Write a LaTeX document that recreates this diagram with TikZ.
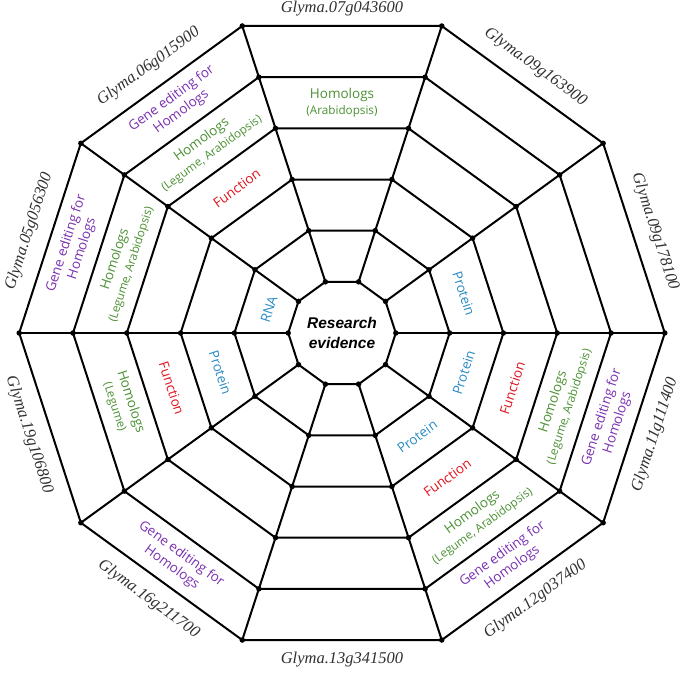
\documentclass[tikz,border=0pt]{standalone}
\usepackage{fontspec}
\setmainfont{Liberation Serif}
\newfontfamily\labfont{Open Sans}
\newfontfamily\centfont{Liberation Sans}
\definecolor{cPur}{HTML}{7A30B0}
\definecolor{cGrn}{HTML}{4A9032}
\definecolor{cRed}{HTML}{E0141E}
\definecolor{cBlu}{HTML}{2A8CC4}
\definecolor{cGene}{HTML}{303030}
\begin{document}
\begin{tikzpicture}[x=1pt,y=1pt,
  web/.style={line width=2pt, line join=round},
  dot/.style={circle, fill=black, inner sep=0pt, minimum size=5.5pt},
  gene/.style={font=\fontsize{16.5}{18}\selectfont\itshape, text=cGene, inner sep=0pt},
  lab/.style={font=\labfont\fontsize{13.5}{16.5}\selectfont, align=center, inner sep=0pt},
]
\newcommand\subl[1]{{\fontsize{11.7}{14}\selectfont #1}}
\useasboundingbox (0,0) rectangle (685,-672);
\coordinate (C) at (342,-333);
\def\U{53.8}
\foreach \k in {1,...,6}{
  \foreach \i in {0,...,9}{
    \path (C) ++(\i*36:\k*\U) coordinate (v\k-\i);
  }
}
% rings
\foreach \k in {1,...,6}{
  \draw[web] (v\k-0) \foreach \i in {1,...,9}{ -- (v\k-\i)} -- cycle;
}
% spokes
\foreach \i in {0,...,9}{
  \draw[web] (v1-\i) -- (v6-\i);
}
% dots
\foreach \k in {1,...,6}{
  \foreach \i in {0,...,9}{
    \node[dot] (d\k-\i) at (v\k-\i) {};
  }
}
% centre
\node[font=\centfont\bfseries\itshape\fontsize{15.5}{20}\selectfont, align=center] (centre) at (C) {Research\\evidence};

% gene labels
\def\G{324.5}\def\H{329}
\path (C) ++(90:\G)   node[gene, rotate=0]   (g90)  {Glyma.07g043600};
\path (C) ++(54:\H)   node[gene, rotate=-36] (g54)  {Glyma.09g163900};
\path (C) ++(18:\H)   node[gene, rotate=-72] (g18)  {Glyma.09g178100};
\path (C) ++(-18:\H)  node[gene, rotate=72]  (gm18) {Glyma.11g111400};
\path (C) ++(-54:\H)  node[gene, rotate=36]  (gm54) {Glyma.12g037400};
\path (C) ++(-90:\G+2)  node[gene, rotate=0]   (gm90) {Glyma.13g341500};
\path (C) ++(-126:\H) node[gene, rotate=-36] (gm126) {Glyma.16g211700};
\path (C) ++(-162:\H) node[gene, rotate=-72] (gm162) {Glyma.19g106800};
\path (C) ++(162:\H)  node[gene, rotate=72]  (g162) {Glyma.05g056300};
\path (C) ++(126:\H)  node[gene, rotate=36]  (g126) {Glyma.06g015900};

% sector labels: cell k centre at (k+0.5)*U*cos18
\def\ra{76.8}\def\rb{128.0}\def\rc{179.1}\def\rd{230.3}\def\re{281.5}
% sector 90
\path (C) ++(90:\rd) node[lab, text=cGrn] (h90) {Homologs\\\subl{(Arabidopsis)}};
% sector 126
\path (C) ++(126:\rc) node[lab, text=cRed, rotate=36] (f126) {Function};
\path (C) ++(126:\rd) node[lab, text=cGrn, rotate=36] (h126) {Homologs\\\subl{(Legume, Arabidopsis)}};
\path (C) ++(126:\re) node[lab, text=cPur, rotate=36] (e126) {Gene editing for\\Homologs};
% sector 162
\path (C) ++(162:\ra) node[lab, text=cBlu, rotate=72] (r162) {RNA};
\path (C) ++(162:\rd) node[lab, text=cGrn, rotate=72] (h162) {Homologs\\\subl{(Legume, Arabidopsis)}};
\path (C) ++(162:\re) node[lab, text=cPur, rotate=72] (e162) {Gene editing for\\Homologs};
% sector -162
\path (C) ++(-162:\rb) node[lab, text=cBlu, rotate=-72] (p198) {Protein};
\path (C) ++(-162:\rc) node[lab, text=cRed, rotate=-72] (f198) {Function};
\path (C) ++(-162:\rd) node[lab, text=cGrn, rotate=-72] (h198) {Homologs\\\subl{(Legume)}};
% sector -126
\path (C) ++(-126:\re) node[lab, text=cPur, rotate=-36] (e234) {Gene editing for\\Homologs};
% sector -54
\path (C) ++(-54:\rb) node[lab, text=cBlu, rotate=36] (p306) {Protein};
\path (C) ++(-54:\rc) node[lab, text=cRed, rotate=36] (f306) {Function};
\path (C) ++(-54:\rd) node[lab, text=cGrn, rotate=36] (h306) {Homologs\\\subl{(Legume, Arabidopsis)}};
\path (C) ++(-54:\re) node[lab, text=cPur, rotate=36] (e306) {Gene editing for\\Homologs};
% sector -18
\path (C) ++(-18:\rb) node[lab, text=cBlu, rotate=72] (p342) {Protein};
\path (C) ++(-18:\rc) node[lab, text=cRed, rotate=72] (f342) {Function};
\path (C) ++(-18:\rd) node[lab, text=cGrn, rotate=72] (h342) {Homologs\\\subl{(Legume, Arabidopsis)}};
\path (C) ++(-18:\re) node[lab, text=cPur, rotate=72] (e342) {Gene editing for\\Homologs};
% sector 18
\path (C) ++(18:\rb) node[lab, text=cBlu, rotate=-72] (p18) {Protein};
\end{tikzpicture}
\end{document}
